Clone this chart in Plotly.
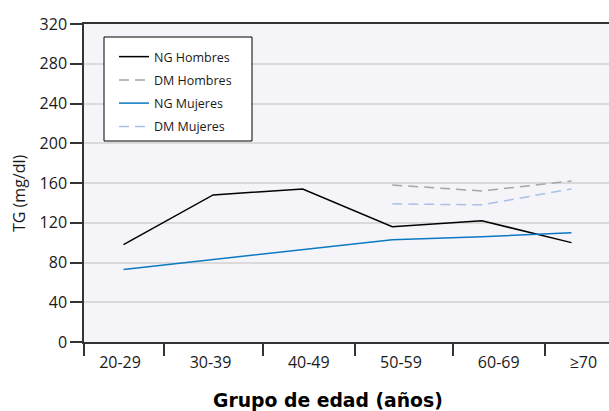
import plotly.graph_objects as go

# ---- data ----
categories = ["20-29", "30-39", "40-49", "50-59", "60-69", "≥70"]
ng_hombres = [98, 148, 154, 116, 122, 100]
dm_hombres = [None, None, None, 158, 152, 162]
ng_mujeres = [73, 83, 93, 103, 106, 110]
dm_mujeres = [None, None, None, 139, 138, 154]
y_ticks = [0, 40, 80, 120, 160, 200, 240, 280, 320]

# ---- layout constants ----
W, H = 609, 411
ML, MR, MT, MB = 84, 0, 24, 69
PW = W - ML - MR
PH = H - MT - MB
X_RANGE = [-0.441, 5.419]
X_BOUNDS = [-0.441, 0.452, 1.554, 2.584, 3.674, 4.708]
X_LABEL_POS = [-0.039, 0.971, 2.068, 3.097, 4.188, 5.133]
AXC = "#333333"
FONT = "Open Sans"

def px_x(p):
    return (p - ML) / PW

def px_y(p):
    return (H - MB - p) / PH

xs = list(range(len(categories)))

fig = go.Figure()
series = [
    ("NG Hombres", ng_hombres, "#000000", "solid"),
    ("DM Hombres", dm_hombres, "#a6a6a6", "10px,6px"),
    ("NG Mujeres", ng_mujeres, "#0b78c2", "solid"),
    ("DM Mujeres", dm_mujeres, "#a9c1e8", "10px,6px"),
]
for name, vals, col, dash in series:
    fig.add_trace(go.Scatter(
        x=xs, y=vals, mode="lines", name=name, legendgroup=name,
        line=dict(color=col, width=1.5, dash=dash),
        connectgaps=False, xaxis="x", yaxis="y",
    ))

# invisible trace to carry label axis
fig.add_trace(go.Scatter(x=xs, y=[None] * len(xs), xaxis="x2", yaxis="y",
                         showlegend=False, hoverinfo="skip"))

fig.update_layout(
    width=W, height=H,
    margin=dict(l=ML, r=MR, t=MT, b=MB),
    paper_bgcolor="white",
    plot_bgcolor="#f5f5f9",
    font=dict(family=FONT, size=16, color="#1a1a1a"),
    xaxis=dict(
        range=X_RANGE, tickmode="array", tickvals=X_BOUNDS,
        ticktext=[""] * len(X_BOUNDS),
        ticks="outside", ticklen=12, tickwidth=1.5, tickcolor=AXC,
        showline=True, linecolor=AXC, linewidth=1.5, mirror=True,
        showgrid=False, zeroline=False,
    ),
    xaxis2=dict(
        range=X_RANGE, overlaying="x", side="bottom",
        tickmode="array", tickvals=X_LABEL_POS, ticktext=categories,
        ticks="", showline=False, showgrid=False, zeroline=False,
        tickfont=dict(family=FONT, size=16, color="#1a1a1a"),
        ticklabelstandoff=9,
    ),
    yaxis=dict(
        range=[0, 320], tickmode="array", tickvals=y_ticks,
        ticks="outside", ticklen=12, tickwidth=1.5, tickcolor=AXC,
        showline=True, linecolor=AXC, linewidth=1.5,
        gridcolor="#dadada", gridwidth=1.5, zeroline=False,
        tickfont=dict(family=FONT, size=16, color="#1a1a1a"),
    ),
    legend=dict(
        x=px_x(114), y=px_y(42), xanchor="left", yanchor="top",
        bgcolor="rgba(0,0,0,0)", borderwidth=0,
        font=dict(family=FONT, size=12.5, color="#1a1a1a"),
        tracegroupgap=4,
    ),
    showlegend=True,
)

fig.add_shape(type="rect", xref="paper", yref="paper",
              x0=px_x(104), x1=px_x(252), y0=px_y(141), y1=px_y(37),
              line=dict(color="#000000", width=1), fillcolor="white",
              layer="above")

fig.add_annotation(text="TG (mg/dl)", xref="paper", yref="paper",
                   x=px_x(19), y=px_y(193), textangle=-90, showarrow=False,
                   xanchor="center", yanchor="middle",
                   font=dict(family=FONT, size=16, color="#1a1a1a"))
fig.add_annotation(text="<b>Grupo de edad (años)</b>", xref="paper", yref="paper",
                   x=px_x(328), y=px_y(400), showarrow=False,
                   xanchor="center", yanchor="middle",
                   font=dict(family="DejaVu Sans", size=18.8, color="#000000"))

fig.write_html("out.html",
               config={"displayModeBar": False},
               post_script="document.body.style.margin='0';document.body.style.padding='0';")
